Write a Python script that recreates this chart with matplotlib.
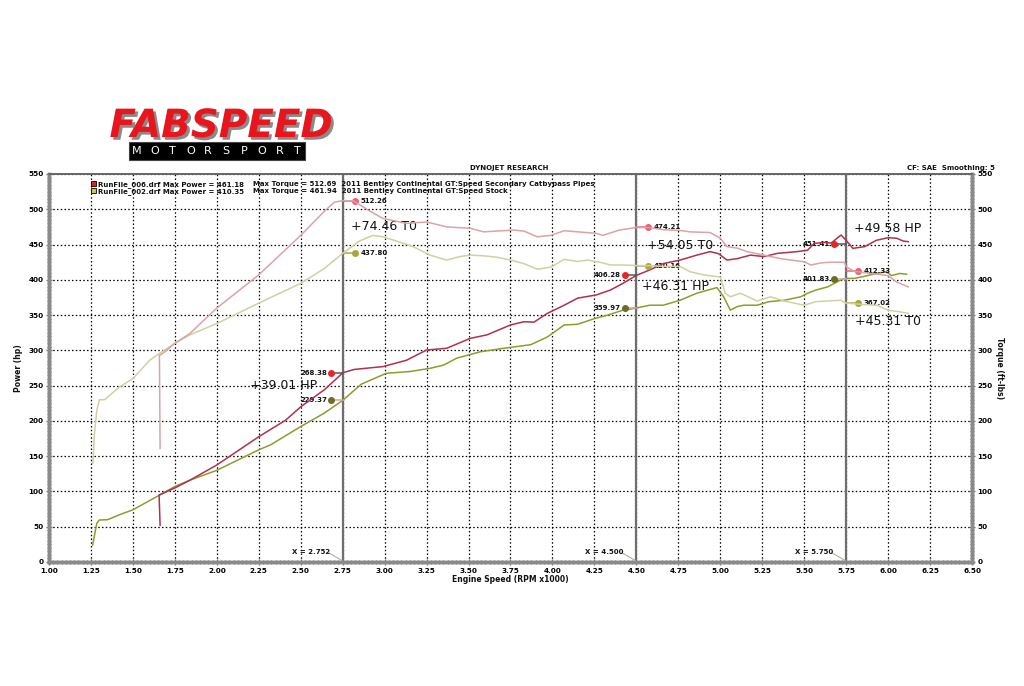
import numpy as np
import matplotlib.pyplot as plt
import matplotlib.patheffects as pe
from matplotlib.patches import Rectangle
from matplotlib.ticker import MultipleLocator

# ---- data (rpm x1000, hp / ft-lbs) ----
mod_hp_rpm = [1.662, 1.656, 1.75, 1.84, 2.00, 2.25, 2.41, 2.50, 2.64, 2.752, 2.82, 2.99, 3.13,
              3.25, 3.37, 3.51, 3.61, 3.75, 3.83, 3.89, 3.97, 4.07, 4.15, 4.26, 4.345, 4.42,
              4.50, 4.58, 4.66, 4.76, 4.86, 4.94, 4.99, 5.04, 5.10, 5.18, 5.26, 5.34, 5.46,
              5.52, 5.56, 5.62, 5.66, 5.72, 5.75, 5.79, 5.86, 5.93, 6.00, 6.05, 6.09, 6.12]
mod_hp = [52, 95, 105, 116, 137.5, 177.6, 201, 220, 244, 268.4, 273, 277, 286,
          300.5, 303, 317, 322, 336, 340.6, 340, 352.5, 364, 374, 378.5, 385.5, 395,
          406.3, 414, 423, 428, 435, 440, 437, 428, 430, 435, 433, 437.5, 440,
          442, 451.7, 453, 452, 463.5, 456, 444.6, 447, 456, 459.7, 459, 455, 454]

mod_tq_rpm = [1.662, 1.658, 1.68, 1.75, 1.84, 2.00, 2.25, 2.50, 2.64, 2.70, 2.752, 2.815, 2.90,
              2.99, 3.13, 3.25, 3.37, 3.51, 3.59, 3.77, 3.83, 3.91, 3.99, 4.07, 4.15, 4.26,
              4.30, 4.40, 4.50, 4.58, 4.66, 4.76, 4.82, 4.94, 5.00, 5.04, 5.10, 5.16, 5.26,
              5.36, 5.42, 5.50, 5.54, 5.60, 5.66, 5.74, 5.75, 5.80, 5.90, 6.00, 6.05, 6.12]
mod_tq = [161, 293, 296, 310, 324, 360, 407, 463, 497, 510, 512.3, 512, 499,
          487, 480, 482, 475, 473, 468, 470.6, 469, 461, 463, 469.6, 468, 466,
          463, 470.6, 474.2, 474, 471, 470, 468, 467, 459, 447, 445, 440, 435,
          430, 428, 425.6, 421, 424, 425, 424.8, 418.6, 412, 409, 406, 397, 390]

stock_hp_rpm = [1.26, 1.285, 1.30, 1.35, 1.42, 1.50, 1.66, 1.75, 1.84, 2.00, 2.25, 2.32, 2.50,
                2.64, 2.752, 2.86, 3.01, 3.15, 3.27, 3.35, 3.43, 3.57, 3.71, 3.87, 3.97, 4.07,
                4.15, 4.25, 4.33, 4.42, 4.50, 4.58, 4.66, 4.76, 4.86, 4.98, 5.02, 5.06, 5.10,
                5.14, 5.22, 5.29, 5.38, 5.48, 5.52, 5.57, 5.64, 5.72, 5.75, 5.80, 5.86, 5.93,
                5.99, 6.02, 6.07, 6.11]
stock_hp = [24, 55, 59.5, 60, 67, 74, 95, 107, 116, 130, 159, 166, 192,
            211, 229.4, 252, 267.5, 270, 274.5, 279, 289, 298, 303, 308, 319, 336,
            337, 345, 350, 357, 360, 364, 364, 371, 381, 389, 376, 357, 362,
            364, 364, 369, 371, 376, 381, 385.5, 390, 400, 402, 402, 405, 409,
            411.5, 406, 409, 408]

stock_tq_rpm = [1.262, 1.27, 1.285, 1.30, 1.33, 1.36, 1.42, 1.50, 1.60, 1.66, 1.75, 1.84, 2.00,
                2.25, 2.50, 2.64, 2.752, 2.85, 2.93, 2.99, 3.07, 3.17, 3.27, 3.37, 3.45, 3.51,
                3.59, 3.67, 3.75, 3.83, 3.91, 3.99, 4.07, 4.15, 4.21, 4.30, 4.345, 4.42, 4.50,
                4.58, 4.66, 4.76, 4.82, 4.90, 5.00, 5.03, 5.06, 5.12, 5.22, 5.30, 5.38, 5.50,
                5.57, 5.64, 5.72, 5.75, 5.85, 5.93, 6.00, 6.06, 6.12]
stock_tq = [140, 180, 215, 230, 230, 236, 248, 260, 286, 296, 310, 322, 338,
            367, 395, 416, 437.8, 455, 463, 461, 455, 447, 435, 428, 433, 435,
            434, 432, 428, 423, 415, 418, 429, 426, 428, 424, 421, 421, 420.2,
            420, 419, 419, 411.5, 407, 404, 381, 376, 381, 370, 376, 370, 364,
            369, 370, 371, 367, 365, 364, 357, 355, 352.5]

# cursor readouts
cursors = [2.752, 4.500, 5.750]
mod_hp_at = [268.38, 406.28, 451.41]
stock_hp_at = [229.37, 359.97, 401.83]
mod_tq_at = [512.26, 474.21, 412.33]
stock_tq_at = [437.80, 420.16, 367.02]

gains = ["+39.01 HP", "+74.46 T0", "+46.31 HP", "+54.05 T0", "+49.58 HP", "+45.31 T0"]

c_mod_hp = '#b0304f'
c_mod_tq = '#d9a3ab'
c_stock_hp = '#8e9c2e'
c_stock_tq = '#d0d0a2'
bold = dict(fontweight='bold', color='#111111')

fig = plt.figure(figsize=(10.24, 6.86), dpi=100)
ax = fig.add_axes([49/1024, 1-562/686, 923/1024, 388/686])
ax2 = ax.twinx()

for a in (ax, ax2):
    a.set_xlim(1.0, 6.5)
    a.set_ylim(0, 550)
    a.yaxis.set_major_locator(MultipleLocator(50))
    a.yaxis.set_minor_locator(MultipleLocator(5))
    a.tick_params(which='both', direction='inout', color='#777777', width=1, labelsize=5.2, pad=2)
    a.tick_params(which='major', length=4)
    a.tick_params(which='minor', length=3)
    for lab in a.get_yticklabels():
        lab.set_fontweight('bold')
ax.xaxis.set_major_locator(MultipleLocator(0.25))
ax.xaxis.set_minor_locator(MultipleLocator(0.025))
ax.xaxis.set_major_formatter(lambda v, p: f"{v:.2f}")
for lab in ax.get_xticklabels():
    lab.set_fontweight('bold')

ax.grid(True, which='major', color='black', linestyle=(0, (1.2, 1.8)), linewidth=0.9)
ax.set_axisbelow(True)

for a in (ax, ax2):
    for s in ('left', 'bottom', 'right'):
        a.spines[s].set_color('#8a8a8a')
        a.spines[s].set_linewidth(2.5)
    a.spines['top'].set_color('#666666')
    a.spines['top'].set_linewidth(1.2)

# cursors
for cx in cursors:
    ax.axvline(cx, color='#6e6e6e', linewidth=1.6, zorder=2)
    ax.text(cx - 0.075, 14, f"X = {cx:.3f}", ha='right', va='center', fontsize=5, **bold)
    ax.plot([cx - 0.085, cx - 0.005], [13, 2], color='#b0b0a0', linewidth=0.8)

ax.plot(stock_hp_rpm, stock_hp, color=c_stock_hp, linewidth=1.1, zorder=3)
ax.plot(mod_hp_rpm, mod_hp, color=c_mod_hp, linewidth=1.1, zorder=4)
ax2.plot(stock_tq_rpm, stock_tq, color=c_stock_tq, linewidth=1.1, zorder=3)
ax2.plot(mod_tq_rpm, mod_tq, color=c_mod_tq, linewidth=1.1, zorder=4)

# cursor markers with readouts
def readout(cx, val, side, mcolor, lcolor):
    off = 0.07 if side == 'right' else -0.07
    mx = cx + off
    ax.plot([cx, mx], [val, val], color=lcolor, linewidth=1.1, zorder=5)
    ax.plot(mx, val, 'o', color=mcolor, markersize=4, zorder=6)
    if side == 'right':
        ax.text(mx + 0.035, val, f"{val:.2f}", ha='left', va='center', fontsize=5, **bold)
    else:
        ax.text(mx - 0.025, val, f"{val:.2f}", ha='right', va='center', fontsize=5, **bold)

for i, cx in enumerate(cursors):
    readout(cx, mod_hp_at[i], 'left', '#e02828', '#555555')
    readout(cx, stock_hp_at[i], 'left', '#6e6e1e', '#d9a3ab')
    readout(cx, mod_tq_at[i], 'right', '#f06070', '#f06070')
    readout(cx, stock_tq_at[i], 'right', '#a8a840', '#a8a840')

# gain callouts
gain_xy = [(2.199, 249.5), (2.80, 475), (4.534, 390), (4.564, 449), (5.796, 473), (5.80, 341.6)]
for txt, (gx, gy) in zip(gains, gain_xy):
    ax.text(gx, gy, txt, ha='left', va='center', fontsize=9, color='#111111', zorder=7)

# run legend
ax.add_patch(Rectangle((0.0455, 0.968), 0.0055, 0.013, transform=ax.transAxes,
                       facecolor='#e81e1e', edgecolor='black', linewidth=0.6, zorder=8))
ax.add_patch(Rectangle((0.0455, 0.950), 0.0055, 0.013, transform=ax.transAxes,
                       facecolor='#c8c840', edgecolor='black', linewidth=0.6, zorder=8))
ax.text(0.0535, 0.974, "RunFile_006.drf Max Power = 461.18", transform=ax.transAxes,
        fontsize=5, va='center', **bold)
ax.text(0.0535, 0.956, "RunFile_002.drf Max Power = 410.35", transform=ax.transAxes,
        fontsize=5, va='center', **bold)
ax.text(0.2205, 0.974, "Max Torque = 512.69  2011 Bentley Continental GT:Speed Secondary Catbypass Pipes",
        transform=ax.transAxes, fontsize=5, va='center', **bold)
ax.text(0.2205, 0.956, "Max Torque = 461.94  2011 Bentley Continental GT:Speed Stock",
        transform=ax.transAxes, fontsize=5, va='center', **bold)

ax.set_xlabel("Engine Speed (RPM x1000)", fontsize=5.5, labelpad=1, **bold)
ax.set_ylabel("Power (hp)", fontsize=5.5, labelpad=4, **bold)
ax2.set_ylabel("Torque (ft-lbs)", fontsize=5.5, rotation=270, labelpad=8, **bold)

fig.text(509/1024, 1-168/686, "DYNOJET RESEARCH", ha='center', va='center', fontsize=5, **bold)
fig.text(995/1024, 1-168/686, "CF: SAE  Smoothing: 5", ha='right', va='center', fontsize=5, **bold)

# logo
fig.text(221/1024, 1-126/686, "FABSPEED", ha='center', va='center', fontsize=28,
         fontweight='bold', style='italic', color='#e8161c',
         path_effects=[pe.SimplePatchShadow(offset=(2, -2), shadow_rgbFace='#8a8a8a', alpha=1),
                       pe.Normal()])
fig.patches.append(Rectangle((129/1024, 1-160/686), 176/1024, 18/686, transform=fig.transFigure,
                             facecolor='black', edgecolor='#444444', linewidth=0.8))
for i, ch in enumerate("MOTORSPORT"):
    fig.text((137 + i * 17.8) / 1024, 1-151/686, ch, ha='center', va='center',
             fontsize=8, color='white')

fig.savefig("out.png", dpi=100, facecolor='white')
